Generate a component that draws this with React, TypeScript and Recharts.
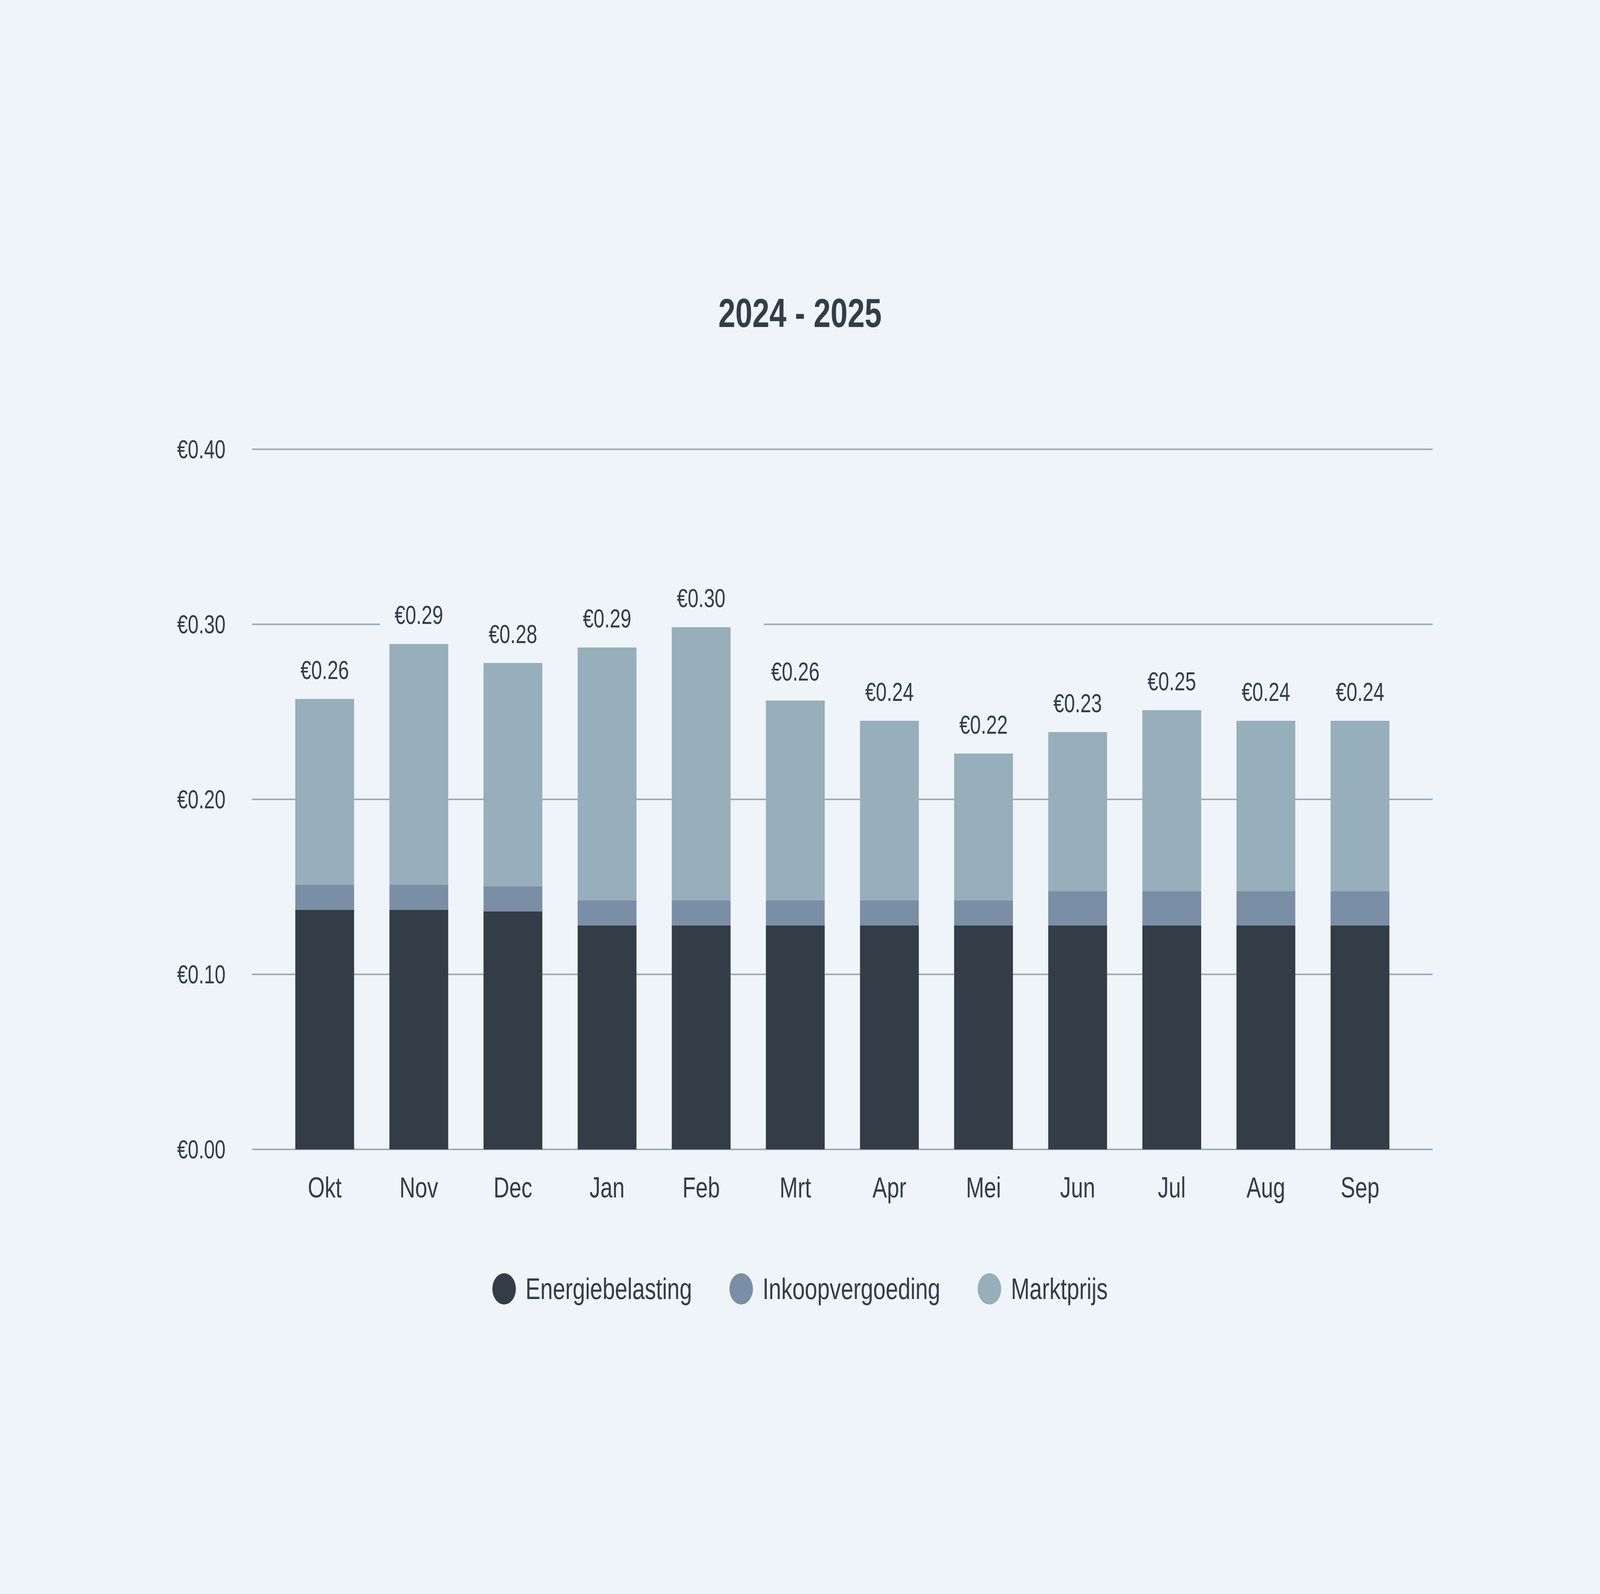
import { BarChart, Bar, XAxis, YAxis, CartesianGrid, LabelList } from 'recharts';

const months = ['Okt', 'Nov', 'Dec', 'Jan', 'Feb', 'Mrt', 'Apr', 'Mei', 'Jun', 'Jul', 'Aug', 'Sep'];
const energiebelasting = [0.1369, 0.1369, 0.136, 0.1279, 0.1279, 0.1279, 0.1279, 0.1279, 0.1279, 0.1279, 0.1279, 0.1279];
const inkoopvergoeding = [0.0142, 0.0142, 0.0142, 0.0143, 0.0143, 0.0143, 0.0143, 0.0143, 0.0197, 0.0197, 0.0197, 0.0197];
const marktprijs = [0.1063, 0.1377, 0.1277, 0.1446, 0.1562, 0.1143, 0.1027, 0.084, 0.0909, 0.1034, 0.0973, 0.0973];
const totalLabels = ['€0.26', '€0.29', '€0.28', '€0.29', '€0.30', '€0.26', '€0.24', '€0.22', '€0.23', '€0.25', '€0.24', '€0.24'];
const yTicks = [0, 0.1, 0.2, 0.3, 0.4];

const W = 5440;
const H = 4080;
const BG = '#eff4f8';
const TEXT = '#333d48';
const GRID = '#98aebc';
const FONT = '"Liberation Sans", Arial, sans-serif';

const series = [
  { key: 'energie', name: 'Energiebelasting', color: '#333d48' },
  { key: 'inkoop', name: 'Inkoopvergoeding', color: '#7a8ea6' },
  { key: 'markt', name: 'Marktprijs', color: '#97aebb' },
];

const data = months.map((month, i) => ({
  month,
  energie: energiebelasting[i],
  inkoop: inkoopvergoeding[i],
  markt: marktprijs[i],
  label: totalLabels[i],
}));

// total label with a background patch, so it hides the gridline behind it
const renderTotal = (props: any) => {
  const x = Number(props.x);
  const y = Number(props.y);
  const w = Number(props.width);
  const cx = x + w / 2;
  return (
    <g>
      <rect x={cx - 132} y={y - 150} width={345} height={150} fill={BG} />
      <text x={cx} y={y - 51} textAnchor="middle" fontSize={66} fill={TEXT} fontFamily={FONT}>
        {props.value}
      </text>
    </g>
  );
};

export default function App() {
  // the window can be narrower than the design size, so fit the drawing to it
  const sx = (window.innerWidth || W) / W;
  const sy = (window.innerHeight || H) / H;
  document.body.style.margin = '0';
  document.body.style.overflow = 'hidden';
  document.body.style.background = BG;

  return (
    <div
      style={{
        position: 'absolute',
        left: 0,
        top: 0,
        width: W,
        height: H,
        background: BG,
        fontFamily: FONT,
        transform: `scale(${sx}, ${sy})`,
        transformOrigin: '0 0',
      }}
    >
      <div
        style={{
          position: 'absolute',
          top: 749,
          left: 0,
          width: W,
          textAlign: 'center',
          fontSize: 104,
          lineHeight: '104px',
          fontWeight: 'bold',
          color: TEXT,
        }}
      >
        2024 - 2025
      </div>

      <div style={{ position: 'absolute', left: 0, top: 0 }}>
        <BarChart width={W} height={H} data={data} margin={{ top: 1150, right: 569, bottom: 1038, left: 0 }}>
          <CartesianGrid vertical={false} stroke={GRID} strokeWidth={4} />
          <XAxis
            dataKey="month"
            height={100}
            axisLine={false}
            tickLine={false}
            tickSize={0}
            tickMargin={70}
            padding={{ left: 87, right: 87 }}
            tick={{ fill: TEXT, fontSize: 74, fontFamily: FONT }}
          />
          <YAxis
            width={857}
            domain={[0, 0.4]}
            ticks={yTicks}
            axisLine={false}
            tickLine={false}
            tickSize={0}
            tickMargin={90}
            tickFormatter={(v: number) => `€${v.toFixed(2)}`}
            tick={{ fill: TEXT, fontSize: 66, fontFamily: FONT }}
          />
          {series.map((s) => (
            <Bar
              key={s.key}
              dataKey={s.key}
              name={s.name}
              stackId="a"
              fill={s.color}
              barSize={200}
              isAnimationActive={false}
            >
              {s.key === 'markt' && <LabelList dataKey="label" content={renderTotal} />}
            </Bar>
          ))}
        </BarChart>
      </div>

      <div
        style={{
          position: 'absolute',
          top: 3259,
          left: 0,
          width: W,
          height: 80,
          display: 'flex',
          justifyContent: 'center',
          alignItems: 'center',
        }}
      >
        {series.map((s, i) => (
          <div key={s.key} style={{ display: 'flex', alignItems: 'center', marginLeft: i === 0 ? 0 : 127 }}>
            <div style={{ width: 80, height: 80, borderRadius: 40, background: s.color }} />
            <span style={{ marginLeft: 33, fontSize: 76, color: TEXT, lineHeight: '80px' }}>{s.name}</span>
          </div>
        ))}
      </div>
    </div>
  );
}
